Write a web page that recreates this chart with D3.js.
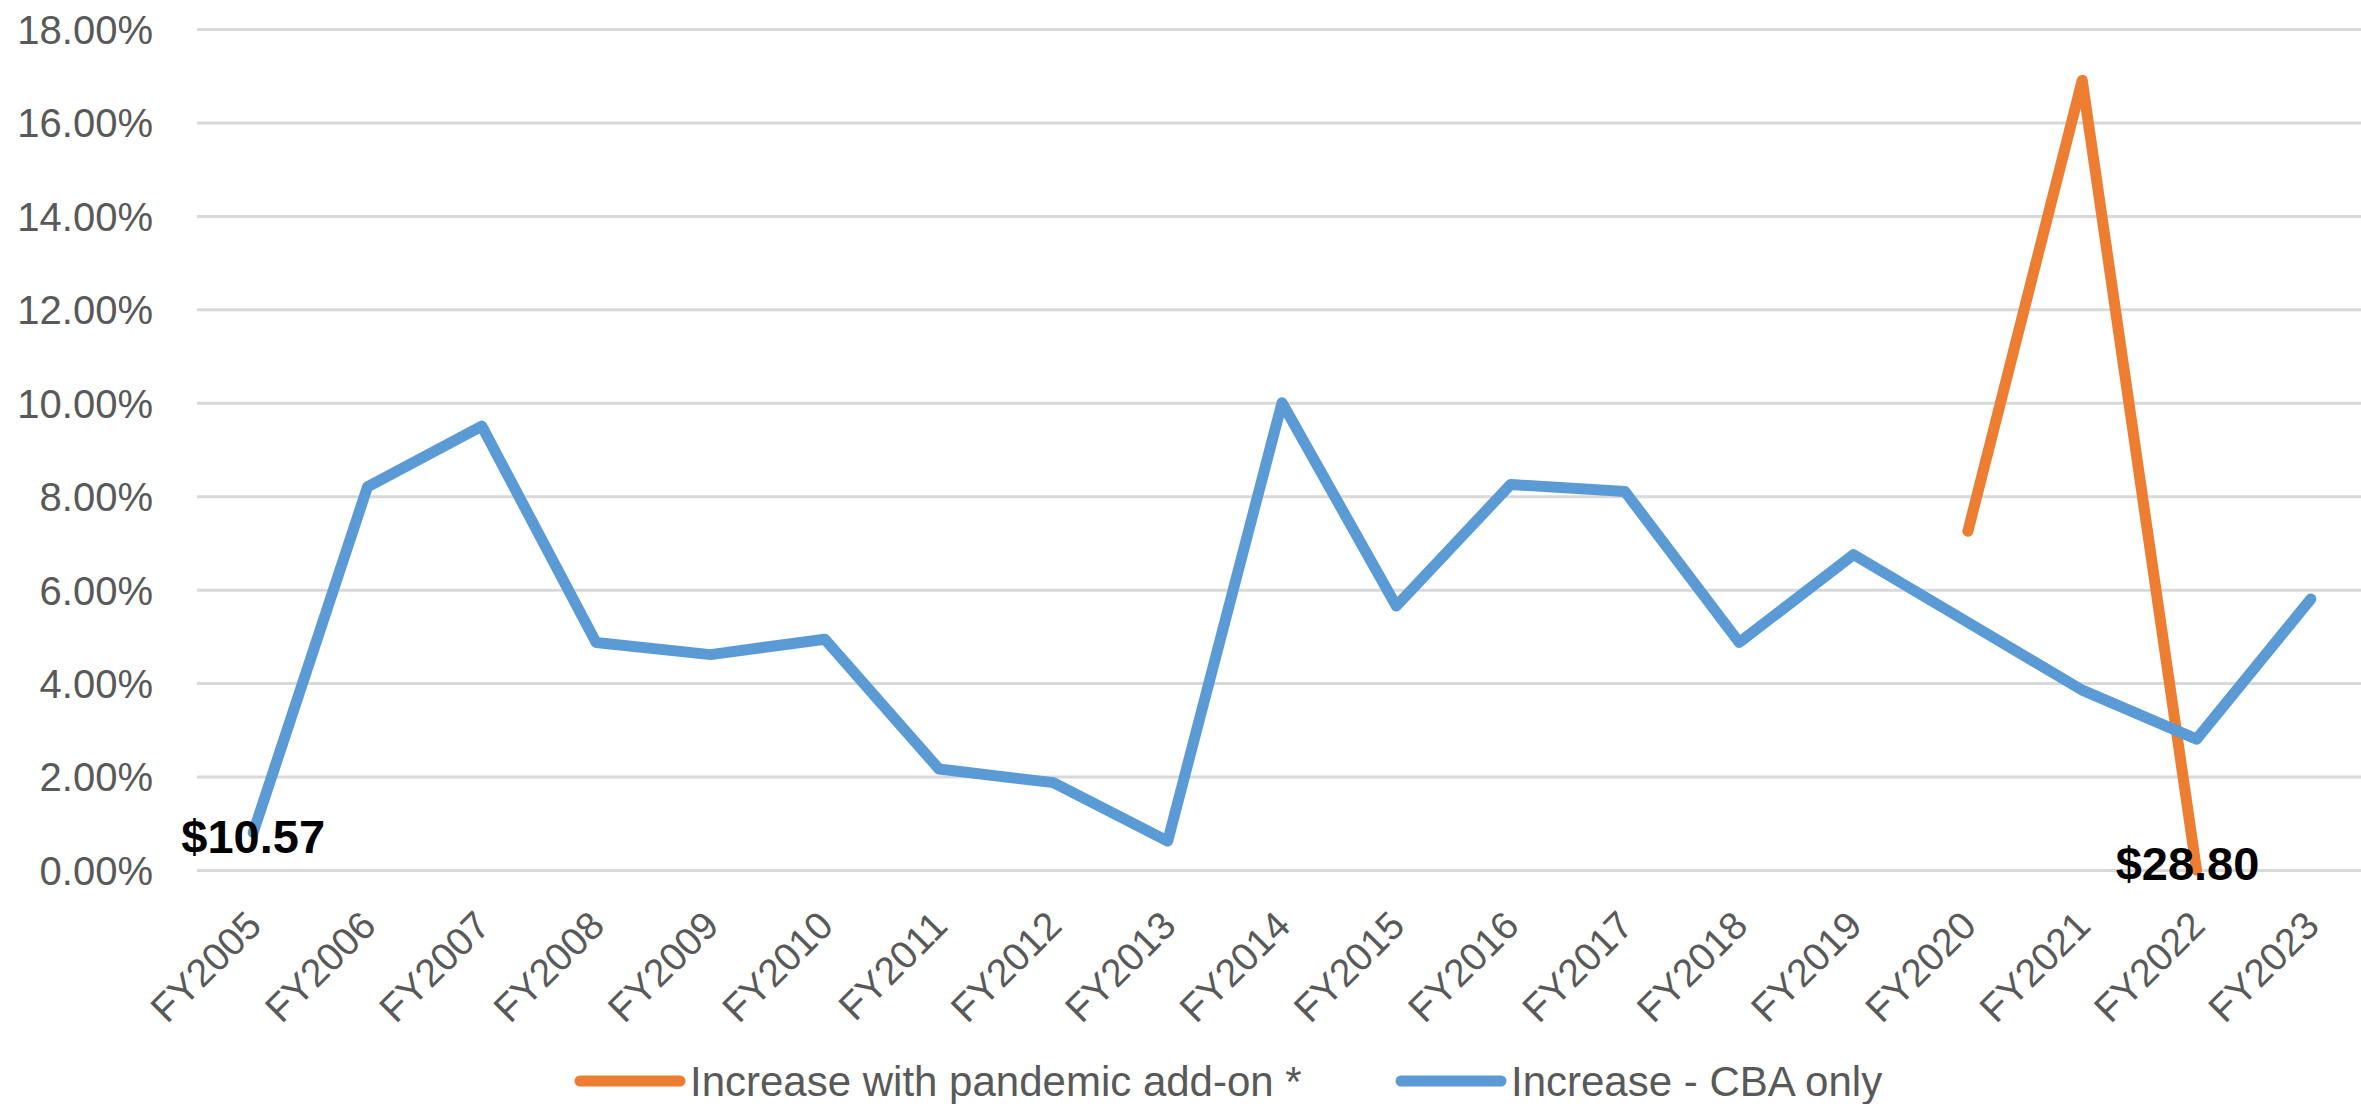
<!DOCTYPE html>
<html>
<head>
<meta charset="utf-8">
<script src="https://cdn.jsdelivr.net/npm/d3@7"></script>
<style>
  html, body { margin: 0; padding: 0; background: #ffffff; }
  svg { display: block; }
</style>
</head>
<body>
<svg id="chart" width="2361" height="1104"></svg>
<script>
// Fiscal years on the category axis
const years = ["FY2005","FY2006","FY2007","FY2008","FY2009","FY2010","FY2011","FY2012",
  "FY2013","FY2014","FY2015","FY2016","FY2017","FY2018","FY2019","FY2020","FY2021","FY2022","FY2023"];

// Year-over-year wage increase, percent
const cbaOnly = [0.8, 8.2, 9.5, 4.87, 4.61, 4.94, 2.16, 1.87, 0.62, 10.0, 5.65, 8.25, 8.1, 4.87, 6.75, 5.3, 3.85, 2.8, 5.8];
const pandemicAddOn = [null, null, null, null, null, null, null, null, null, null, null, null, null, null, null, 7.25, 16.9, 0.0, null];

// Axis ticks, percent
const yTicks = [0, 2, 4, 6, 8, 10, 12, 14, 16, 18];

// Hourly wage callouts
const wageLabels = [
  { series: "cba", year: "FY2005", text: "$10.57" },
  { series: "pandemic", year: "FY2022", text: "$28.80" }
];

const seriesNames = ["Increase with pandemic add-on *", "Increase - CBA only"];
const seriesColors = { pandemic: "#ED7D31", cba: "#5B9BD5" };

const svg = d3.select("#chart");
const font = "'Liberation Sans', Arial, sans-serif";

const plot = { left: 197, right: 2368, top: 29, bottom: 870 };

const x = d3.scalePoint().domain(years).range([plot.left - 1, plot.right]).padding(0.5);
const y = d3.scaleLinear().domain([0, 18]).range([plot.bottom, plot.top]);

svg.append("rect").attr("width", 2361).attr("height", 1104).attr("fill", "#ffffff");

// Horizontal gridlines
const yAxis = d3.axisLeft(y)
  .tickValues(yTicks)
  .tickSize(-(plot.right - plot.left))
  .tickPadding(44)
  .tickFormat(d => d.toFixed(2) + "%");

const gy = svg.append("g")
  .attr("transform", `translate(${plot.left},0)`)
  .call(yAxis);
gy.select(".domain").remove();
gy.selectAll(".tick line").attr("stroke", "#D9D9D9").attr("stroke-width", 3);
gy.selectAll(".tick text")
  .attr("fill", "#595959")
  .attr("font-family", font)
  .attr("font-size", 40)
  .attr("dy", "0.36em");

// Category labels, rotated
const xAxis = d3.axisBottom(x).tickSize(0).tickPadding(0);
const gx = svg.append("g")
  .attr("transform", `translate(0,${plot.bottom})`)
  .call(xAxis);
gx.select(".domain").remove();
gx.selectAll(".tick text")
  .attr("fill", "#595959")
  .attr("font-family", font)
  .attr("font-size", 39)
  .attr("text-anchor", "end")
  .attr("dy", 0)
  .attr("y", 0)
  .attr("transform", "translate(10,58) rotate(-45)");

// Series lines
const line = d3.line()
  .defined(d => d.v !== null)
  .x(d => x(d.year))
  .y(d => y(d.v));

function drawSeries(values, color) {
  const pts = years.map((yr, i) => ({ year: yr, v: values[i] }));
  svg.append("path")
    .datum(pts)
    .attr("d", line)
    .attr("fill", "none")
    .attr("stroke", color)
    .attr("stroke-width", 11)
    .attr("stroke-linejoin", "round")
    .attr("stroke-linecap", "round");
}

drawSeries(pandemicAddOn, seriesColors.pandemic);
drawSeries(cbaOnly, seriesColors.cba);

// Wage callouts centred on their points
const valueOf = (s, yr) => (s === "cba" ? cbaOnly : pandemicAddOn)[years.indexOf(yr)];
svg.append("g")
  .selectAll("text")
  .data(wageLabels)
  .join("text")
  .attr("x", d => x(d.year) - (d.series === "pandemic" ? 9 : 0))
  .attr("y", d => y(valueOf(d.series, d.year)) + (d.series === "pandemic" ? 10 : 20))
  .attr("text-anchor", "middle")
  .attr("font-family", font)
  .attr("font-weight", "bold")
  .attr("font-size", 47)
  .attr("fill", "#000000")
  .text(d => d.text);

// Legend
const legend = svg.append("g").attr("transform", "translate(0,1081)");
const legendItems = [
  { name: seriesNames[0], color: seriesColors.pandemic, x: 580 },
  { name: seriesNames[1], color: seriesColors.cba, x: 1401 }
];
legendItems.forEach(item => {
  legend.append("line")
    .attr("x1", item.x).attr("x2", item.x + 100)
    .attr("y1", 0).attr("y2", 0)
    .attr("stroke", item.color)
    .attr("stroke-width", 11)
    .attr("stroke-linecap", "round");
  legend.append("text")
    .attr("x", item.x + 110)
    .attr("y", 15)
    .attr("font-family", font)
    .attr("font-size", 42)
    .attr("fill", "#595959")
    .text(item.name);
});
</script>
</body>
</html>
